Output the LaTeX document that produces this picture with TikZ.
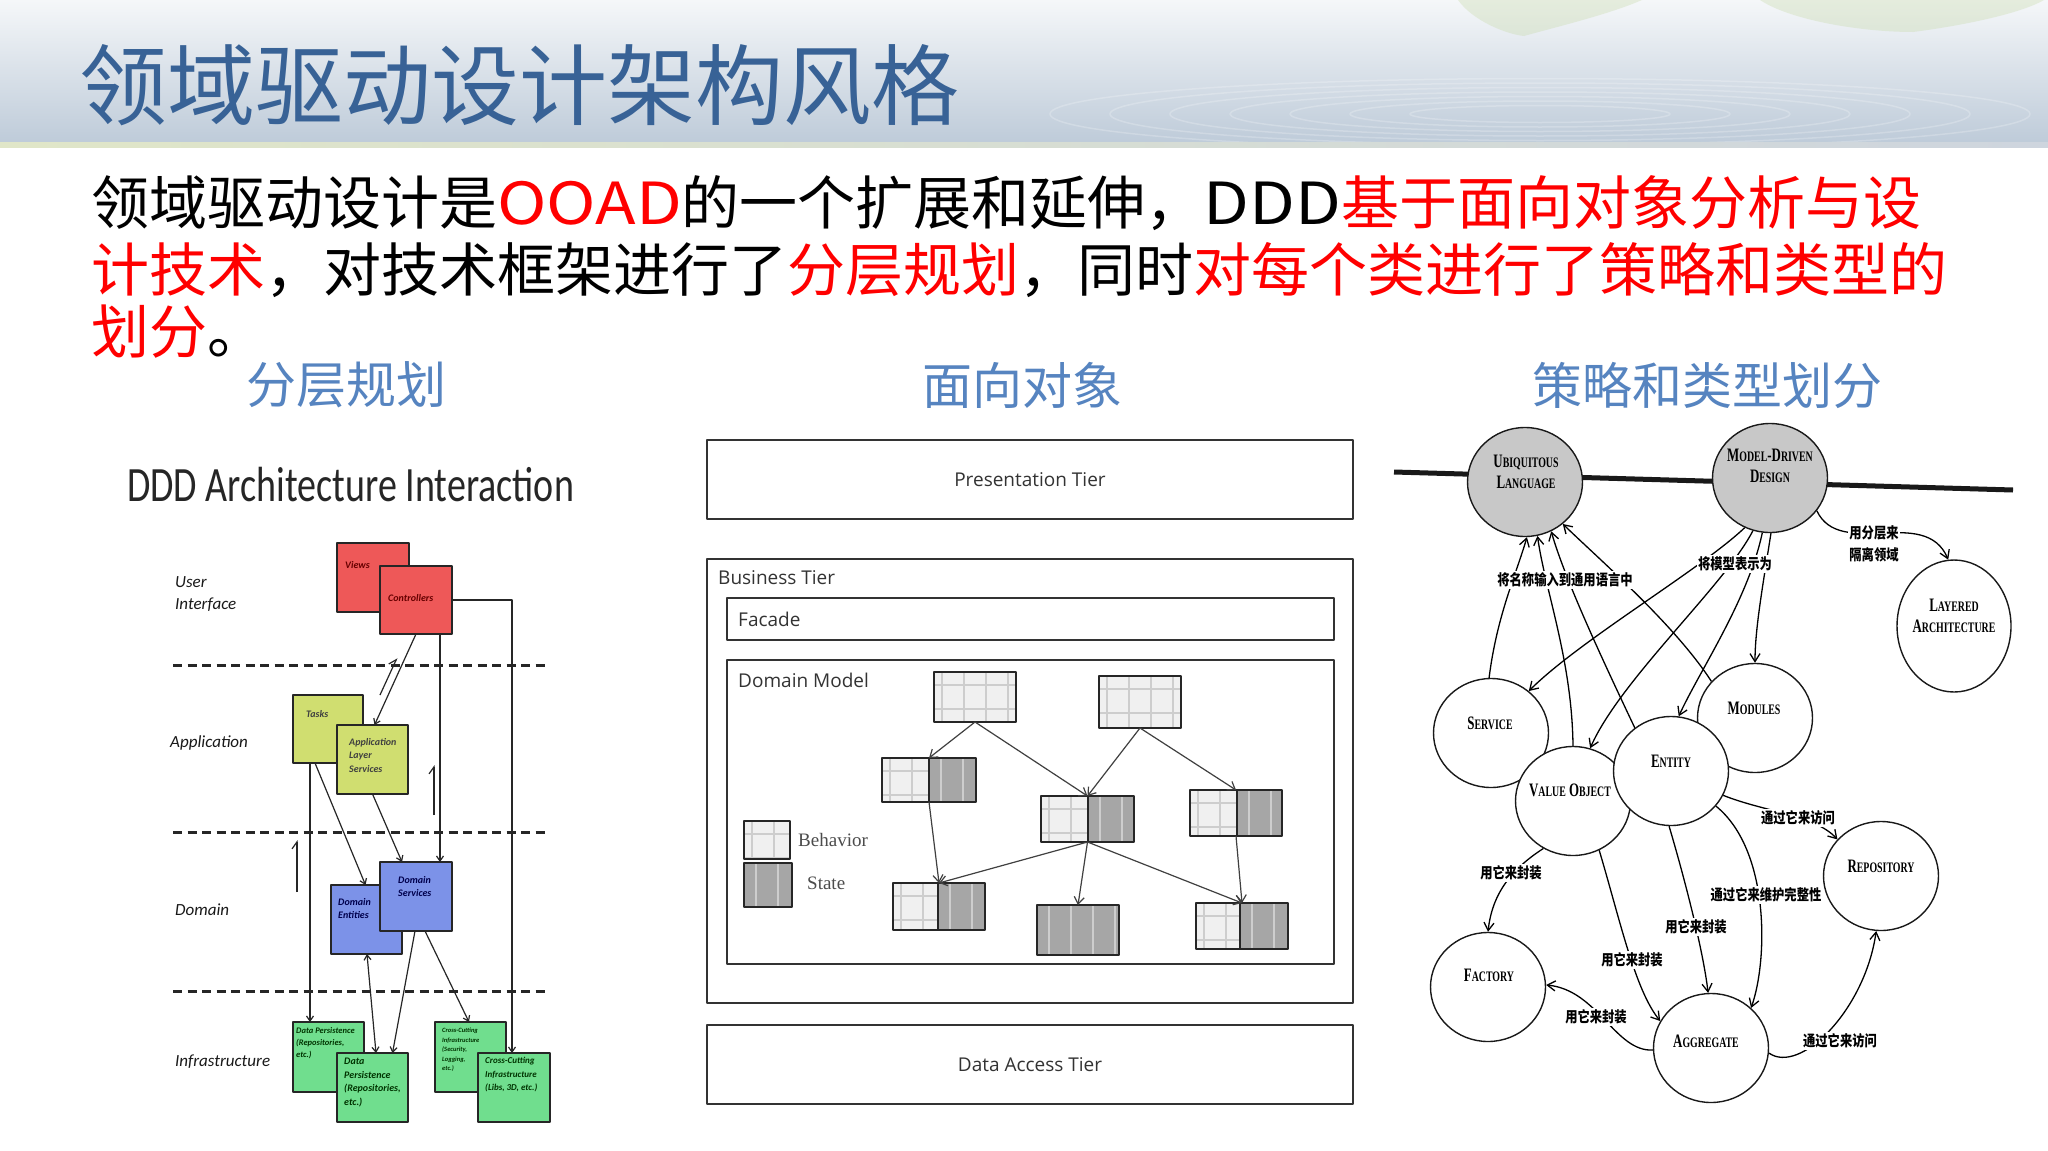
\documentclass[tikz,border=0pt]{standalone}
\usepackage{fontspec}
\usepackage{graphicx}
\setmainfont{Liberation Serif}
\newfontfamily\cjk{Noto Sans CJK SC}
\newfontfamily\calfont{Carlito}
\newfontfamily\osans{Open Sans}
\usetikzlibrary{arrows.meta,shapes.geometric}

\definecolor{titleblue}{RGB}{56,98,150}
\definecolor{subblue}{RGB}{86,132,192}
\definecolor{keyred}{RGB}{255,0,0}
\definecolor{bandtop}{RGB}{245,247,249}
\definecolor{bandbot}{RGB}{190,203,217}
\definecolor{uired}{RGB}{238,88,88}
\definecolor{appyel}{RGB}{208,222,112}
\definecolor{domblu}{RGB}{124,146,232}
\definecolor{infgrn}{RGB}{112,222,142}
\definecolor{behfill}{RGB}{240,240,240}
\definecolor{stfill}{RGB}{166,166,166}
\definecolor{gridln}{RGB}{205,205,205}
\definecolor{corefill}{RGB}{200,200,200}
\definecolor{leafgreen}{RGB}{200,218,170}

% small capitals for the concept names
\newcommand\scw[2]{{\fontsize{19}{21}\selectfont #1}{\fontsize{14.5}{21}\selectfont #2}}
\newcommand\ddname[1]{\scalebox{0.68}[1]{\bfseries\begin{tabular}{@{}c@{}}#1\end{tabular}}}
\newcommand\cn[1]{\scalebox{0.82}[1]{#1}}
\newcommand\wide[1]{\scalebox{1.15}[1]{#1}}

% class box of the domain model: name, x1, y1, x2, y2, split between behaviour and state
\newcommand\dmbox[6]{%
  \fill[behfill] (#2,#3) rectangle (#6,#5);
  \fill[stfill] (#6,#3) rectangle (#4,#5);
  \begin{scope}
    \clip (#2,#3) rectangle (#6,#5);
    \foreach \k in {0,...,4}{%
      \draw[gridln,line width=1.8pt] ({#2+8+22*\k},#3) -- ({#2+8+22*\k},#5);
      \draw[gridln,line width=1.8pt] (#2,{#3+13+24*\k}) -- (#6,{#3+13+24*\k});}
  \end{scope}
  \begin{scope}
    \clip (#6,#3) rectangle (#4,#5);
    \foreach \k in {0,...,4}{%
      \draw[gridln,line width=1.8pt] ({#6+12+22*\k},#3) -- ({#6+12+22*\k},#5);}
  \end{scope}
  \draw[black!85,line width=1.6pt] (#6,#3) -- (#6,#5);
  \node[draw=black!85,line width=1.6pt,inner sep=0,outer sep=0,anchor=north west,
        minimum width={#4-#2},minimum height={#5-#3}] (#1) at (#2,#3) {};
}

\begin{document}
\begin{tikzpicture}[x=1pt,y=-1pt,line join=round,
  larr/.style={draw=black!85,line width=1.2pt,-{Straight Barb[length=5pt,width=7pt]}},
  lharp/.style={draw=black!85,line width=1.2pt,-{Straight Barb[harpoon,length=7pt,width=10pt]}},
  lbox/.style={draw=black!85,line width=1.5pt,inner sep=0,outer sep=0,anchor=north west},
  ltxt/.style={anchor=north west,inner sep=0,align=left,font=\calfont\itshape\bfseries\fontsize{10}{13.5}\selectfont},
  layer/.style={anchor=west,inner sep=0,align=left,text=black!90,font=\calfont\itshape\fontsize{17}{22}\selectfont},
  sep/.style={black!85,line width=3pt,dash pattern=on 9pt off 5.5pt},
  tier/.style={draw=black!80,line width=1.5pt,anchor=north west,inner sep=0,outer sep=0},
  tiertxt/.style={inner sep=0,text=black!80,font=\osans\fontsize{19}{22}\selectfont},
  marr/.style={draw=black!75,line width=1.2pt,-{Straight Barb[length=7pt,width=10pt]}},
  dd/.style={ellipse,draw=black!90,line width=1.4pt,fill=white,inner sep=0,minimum width=115pt,minimum height=109pt},
  core/.style={dd,fill=corefill},
  ddtxt/.style={inner sep=0,font=\fontsize{19}{21}\selectfont},
  rarr/.style={draw=black,line width=1.3pt,-{Straight Barb[length=8pt,width=10pt]}},
  cnl/.style={fill=white,inner sep=1.5pt,font=\cjk\bfseries\fontsize{15}{18}\selectfont}]

\useasboundingbox (0,0) rectangle (2048,1151);
\fill[white] (0,0) rectangle (2048,1151);

% ---------- header band ----------
\shade[top color=bandtop,bottom color=bandbot] (0,0) rectangle (2048,143);
\begin{scope}
  \clip (0,0) rectangle (2048,143);
  \foreach \r in {1,...,7}
    \draw[white,opacity=0.22,line width=1.5pt] (1540,114) ellipse ({70+60*\r} and {4+4.5*\r});
  \fill[leafgreen,opacity=0.35] (1458,0) .. controls (1472,20) and (1505,34) .. (1524,36)
        .. controls (1560,26) and (1610,14) .. (1642,0) -- cycle;
  \fill[leafgreen,opacity=0.35] (1760,0) .. controls (1790,20) and (1860,32) .. (1913,32)
        .. controls (1960,26) and (2020,14) .. (2044,0) -- cycle;
\end{scope}
\shade[left color={rgb,255:red,224;green,230;blue,200},right color={rgb,255:red,206;green,213;blue,222}] (0,142) rectangle (2048,147);

\node[anchor=west,inner sep=0,text=titleblue,font=\cjk\fontsize{88}{88}\selectfont] (title) at (79,85) {领域驱动设计架构风格};

% ---------- body text ----------
\begin{scope}[every node/.style={anchor=west,inner sep=0,font=\cjk\fontsize{58}{58}\selectfont}]
  \node (line1) at (91,203) {领域驱动设计是{\color{keyred}\wide{OOAD}}的一个扩展和延伸，\wide{DDD}{\color{keyred}基于面向对象分析与设}};
  \node (line2) at (91,270) {{\color{keyred}计技术}，对技术框架进行了{\color{keyred}分层规划}，同时{\color{keyred}对每个类进行了策略和类型的}};
  \node (line3) at (91,332) {{\color{keyred}划分}。};
\end{scope}

\begin{scope}[every node/.style={inner sep=0,text=subblue,font=\cjk\fontsize{50}{50}\selectfont}]
  \node (sub1) at (346,385) {分层规划};
  \node (sub2) at (1022,385) {面向对象};
  \node (sub3) at (1707,385) {策略和类型划分};
\end{scope}

% ---------- layered architecture ----------
\node[anchor=west,inner sep=0,text=black!85,font=\calfont\fontsize{38}{40}\selectfont] (ddd) at (127,485)
  {\scalebox{1}[1.3]{DDD Architecture Interaction}};

\draw[sep] (173,665) -- (548,665);
\draw[sep] (173,832) -- (548,832);
\draw[sep] (173,991) -- (548,991);

\node[layer] (l-ui) at (175,594) {User\\Interface};
\node[layer] (l-app) at (170,743) {Application};
\node[layer] (l-dom) at (175,910) {Domain};
\node[layer] (l-inf) at (175,1062) {Infrastructure};

\node[lbox,fill=uired,minimum width=72pt,minimum height=69pt] (views) at (337,543) {};
\node[ltxt,text=red!40!black] (views-t) at (345,561) {Views};
\node[lbox,fill=uired,minimum width=72pt,minimum height=68pt] (ctrl) at (380,566) {};
\node[ltxt,text=red!40!black] (ctrl-t) at (388,594) {Controllers};

\node[lbox,fill=appyel,minimum width=70pt,minimum height=68pt] (tasks) at (293,695) {};
\node[ltxt,text=black!75] (tasks-t) at (306,710) {Tasks};
\node[lbox,fill=appyel,minimum width=71pt,minimum height=69pt] (als) at (337,725) {};
\node[ltxt,text=black!75] (als-t) at (349,738) {Application\\Layer\\Services};

\node[lbox,fill=domblu,minimum width=71pt,minimum height=69pt] (dent) at (331,885) {};
\node[ltxt,text=blue!30!black] (dent-t) at (338,898) {Domain\\Entities};
\node[lbox,fill=domblu,minimum width=72pt,minimum height=69pt] (dsvc) at (380,862) {};
\node[ltxt,text=blue!30!black] (dsvc-t) at (398,876) {Domain\\Services};

\node[lbox,fill=infgrn,minimum width=71pt,minimum height=70pt] (dp1) at (293,1022) {};
\node[ltxt,text=green!20!black,font=\calfont\itshape\bfseries\fontsize{8.5}{12}\selectfont] (dp1-t) at (296,1027) {Data Persistence\\(Repositories,\\etc.)};
\node[lbox,fill=infgrn,minimum width=71pt,minimum height=69pt] (dp2) at (337,1053) {};
\node[ltxt,text=green!20!black] (dp2-t) at (344,1058) {Data\\Persistence\\(Repositories,\\etc.)};
\node[lbox,fill=infgrn,minimum width=71pt,minimum height=70pt] (cc1) at (435,1022) {};
\node[ltxt,text=green!20!black,font=\calfont\itshape\bfseries\fontsize{6.5}{9.5}\selectfont] (cc1-t) at (442,1028) {Cross-Cutting\\Infrastructure\\(Security,\\Logging,\\etc.)};
\node[lbox,fill=infgrn,minimum width=72pt,minimum height=69pt] (cc2) at (478,1053) {};
\node[ltxt,text=green!20!black,font=\calfont\itshape\bfseries\fontsize{9}{13.5}\selectfont] (cc2-t) at (485,1057) {Cross-Cutting\\Infrastructure\\(Libs, 3D, etc.)};

\draw[larr] (ctrl.east) -| ([xshift=-2pt]cc2.north);
\draw[larr] ([xshift=24pt]ctrl.south) -- ([xshift=24pt]dsvc.north);
\draw[larr] (ctrl.south) -- ([xshift=2pt]als.north);
\draw[larr] ([xshift=-18pt]tasks.south) -- ([xshift=-18.5pt]dp1.north);
\draw[larr] ([xshift=-13pt]tasks.south) -- ([xshift=-1pt]dent.north);
\draw[larr] (als.south) -- ([xshift=-14pt]dsvc.north);
\draw[larr,{Straight Barb[length=5pt,width=7pt]}-{Straight Barb[length=5pt,width=7pt]}] ([xshift=0.5pt]dent.south) -- ([xshift=3.5pt]dp2.north);
\draw[larr] ([xshift=-1pt]dsvc.south) -- ([xshift=20pt]dp2.north);
\draw[larr] ([xshift=9pt]dsvc.south) -- ([xshift=-1.5pt]cc1.north);

\coordinate (h1a) at (380,695); \coordinate (h1b) at (397,658);
\coordinate (h2a) at (434,815); \coordinate (h2b) at (434,765);
\coordinate (h3a) at (297,892); \coordinate (h3b) at (297,840);
\draw[lharp] (h1a) -- (h1b);
\draw[lharp] (h2a) -- (h2b);
\draw[lharp] (h3a) -- (h3b);

% ---------- object oriented tiers ----------
\node[tier,minimum width=646pt,minimum height=79pt] (pres) at (707,440) {};
\node[tiertxt] (pres-t) at (pres.center) {Presentation Tier};
\node[tier,minimum width=646pt,minimum height=444pt] (bus) at (707,559) {};
\node[tiertxt,anchor=west] (bus-t) at (718,578) {Business Tier};
\node[tier,minimum width=607pt,minimum height=42pt] (facade) at (727,598) {};
\node[tiertxt,anchor=west] (facade-t) at (738,619) {Facade};
\node[tier,minimum width=607pt,minimum height=304pt] (dm) at (727,660) {};
\node[tiertxt,anchor=west] (dm-t) at (738,680) {Domain Model};
\node[tier,minimum width=646pt,minimum height=79pt] (dat) at (707,1025) {};
\node[tiertxt] (dat-t) at (dat.center) {Data Access Tier};

\dmbox{t1}{934}{672}{1016}{722}{1016}
\dmbox{t2}{1099}{676}{1181}{728}{1181}
\dmbox{ca}{882}{758}{976}{802}{929}
\dmbox{cb}{1041}{796}{1134}{842}{1088}
\dmbox{cc}{1190}{790}{1282}{836}{1237}
\dmbox{cd}{893}{883}{985}{930}{938}
\dmbox{ce}{1037}{905}{1119}{955}{1037}
\dmbox{cf}{1196}{903}{1288}{949}{1240}
\dmbox{keyb}{744}{821}{790}{859}{790}
\dmbox{keys}{744}{863}{792}{907}{744}
\node[anchor=west,inner sep=0,text=black!70,font=\fontsize{19}{21}\selectfont] (keyb-t) at (798,840) {Behavior};
\node[anchor=west,inner sep=0,text=black!70,font=\fontsize{19}{21}\selectfont] (keys-t) at (807,883) {State};

\draw[marr] (t1.south) -- (ca.north);
\draw[marr] (t1.south) -- (cb.north);
\draw[marr] (t2.south) -- (cb.north);
\draw[marr] (t2.south) -- (cc.north);
\draw[marr] (ca.south) -- (cd.north);
\draw[marr] (cb.south) -- (cd.north);
\draw[marr] (cb.south) -- (ce.north);
\draw[marr] (cb.south) -- (cf.north);
\draw[marr] (cc.south) -- (cf.north);

% ---------- strategies and types ----------
\coordinate (bbL) at (1394,472);
\coordinate (bbR) at (2013,490);
\draw[line width=5pt,black!90] (bbL) -- (bbR);

\node[core] (ul) at (1525,482) {};
\node[core] (mdd) at (1770,478) {};
\node[dd,minimum width=114pt,minimum height=132pt] (lay) at (1954,626) {};
\node[dd] (srv) at (1491,733) {};
\node[dd] (mod) at (1755,718) {};
\node[dd] (vo) at (1573,801) {};
\node[dd] (ent) at (1671,771) {};
\node[dd] (rep) at (1881,876) {};
\node[dd] (fac) at (1488,987) {};
\node[dd] (agg) at (1711,1048) {};

\node[ddtxt] (ul-t) at (1526,474) {\ddname{\scw{U}{BIQUITOUS}\\\scw{L}{ANGUAGE}}};
\node[ddtxt] (mdd-t) at (1770,468) {\ddname{\scw{M}{ODEL}-\scw{D}{RIVEN}\\\scw{D}{ESIGN}}};
\node[ddtxt] (lay-t) at (1954,618) {\ddname{\scw{L}{AYERED}\\\scw{A}{RCHITECTURE}}};
\node[ddtxt] (srv-t) at (1490,725) {\ddname{\scw{S}{ERVICE}}};
\node[ddtxt] (mod-t) at (1754,710) {\ddname{\scw{M}{ODULES}}};
\node[ddtxt] (vo-t) at (1570,792) {\ddname{\scw{V}{ALUE} \scw{O}{BJECT}}};
\node[ddtxt] (ent-t) at (1671,763) {\ddname{\scw{E}{NTITY}}};
\node[ddtxt] (rep-t) at (1881,868) {\ddname{\scw{R}{EPOSITORY}}};
\node[ddtxt] (fac-t) at (1489,977) {\ddname{\scw{F}{ACTORY}}};
\node[ddtxt] (agg-t) at (1706,1043) {\ddname{\scw{A}{GGREGATE}}};

\draw[rarr] (srv.92) .. controls (1497,615) and (1516,575) .. (ul.272);
\draw[rarr] (vo.90) .. controls (1572,660) and (1545,590) .. (ul.283);
\draw[rarr] (ent.130) .. controls (1605,665) and (1565,580) .. (ul.298);
\draw[rarr] (mod.140) .. controls (1675,625) and (1600,560) .. (ul.312);

\draw[rarr] (mdd.243) .. controls (1700,570) and (1580,640) .. (srv.48);
\draw[rarr] (mdd.252) .. controls (1725,585) and (1620,680) .. (vo.72);
\draw[rarr] (mdd.262) .. controls (1748,600) and (1700,670) .. (ent.82);
\draw[rarr] (mdd.271) .. controls (1762,590) and (1755,630) .. (mod.90);
\draw[rarr] (mdd.-35) .. controls (1840,560) and (1925,505) .. (lay.95);

\draw[rarr] (ent.-25) .. controls (1765,812) and (1815,815) .. (rep.140);
\draw[rarr] (vo.238) .. controls (1510,870) and (1492,895) .. (fac.90);
\draw[rarr] (ent.268) .. controls (1685,880) and (1703,950) .. (agg.93);
\draw[rarr] (ent.-38) .. controls (1770,850) and (1768,960) .. (agg.45);
\draw[rarr] (vo.-62) .. controls (1620,920) and (1635,990) .. (agg.152);
\draw[rarr] (agg.182) .. controls (1615,1052) and (1598,990) .. (fac.2);
\draw[rarr] (agg.-5) .. controls (1800,1075) and (1865,1010) .. (rep.265);

\node[cnl] (l-ul) at (1565,580) {\cn{将名称输入到通用语言中}};
\node[cnl] (l-mdd) at (1735,564) {\cn{将模型表示为}};
\node[cnl] (l-lay) at (1874,545) {\cn{\renewcommand\arraystretch{1.25}\begin{tabular}{@{}l@{}}用分层来\\隔离领域\end{tabular}}};
\node[cnl] (l-er) at (1798,818) {\cn{通过它来访问}};
\node[cnl] (l-vf) at (1511,873) {\cn{用它来封装}};
\node[cnl] (l-ea1) at (1696,927) {\cn{用它来封装}};
\node[cnl] (l-ea2) at (1766,895) {\cn{通过它来维护完整性}};
\node[cnl] (l-va) at (1632,960) {\cn{用它来封装}};
\node[cnl] (l-af) at (1596,1017) {\cn{用它来封装}};
\node[cnl] (l-ar) at (1840,1041) {\cn{通过它来访问}};

\end{tikzpicture}
\end{document}
